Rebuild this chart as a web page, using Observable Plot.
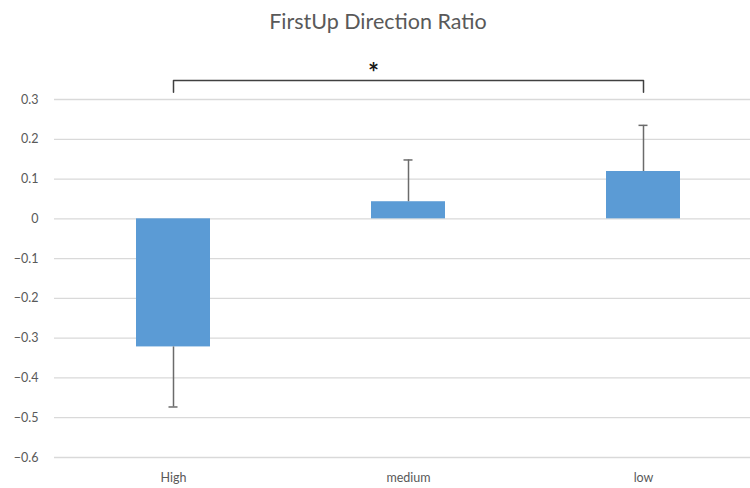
<!DOCTYPE html>
<html>
<head>
<meta charset="utf-8">
<script src="https://cdn.jsdelivr.net/npm/d3@7"></script>
<script src="https://cdn.jsdelivr.net/npm/@observablehq/plot@0.6"></script>
<style>
  body { margin: 0; background: #fff; }
  #title { height: 40px; line-height: 42px; text-align: center; padding-left: 6px;
           font-family: Lato, "Open Sans", sans-serif; font-size: 21.5px; color: #595959; }
  svg { display: block; }
</style>
</head>
<body>
<div id="title">FirstUp Direction Ratio</div>
<div id="chart"></div>
<script>
const categories = ["High", "medium", "low"];
const values = [-0.322, 0.043, 0.119];
const errorEnds = [-0.473, 0.148, 0.235];
const yTicks = [-0.6, -0.5, -0.4, -0.3, -0.2, -0.1, 0, 0.1, 0.2, 0.3];
const bracketFrom = "High";
const bracketTo = "low";
const bracketTop = 0.348;
const bracketBottom = 0.318;
const sigLabel = "*";
const sigY = 0.385;

const data = categories.map((c, i) => ({cat: c, v: values[i], e: errorEnds[i]}));
const bracket = [
  {x: bracketFrom, y: bracketBottom},
  {x: bracketFrom, y: bracketTop},
  {x: bracketTo, y: bracketTop},
  {x: bracketTo, y: bracketBottom}
];
const sigMid = [{x: "medium", y: sigY, t: sigLabel}];

const chart = Plot.plot({
  width: 750,
  height: 448,
  marginLeft: 54,
  marginRight: 0,
  marginTop: 59,
  marginBottom: 31,
  style: {fontFamily: "Lato, 'Open Sans', sans-serif", fontSize: "12.5px", color: "#595959", background: "#fff"},
  x: {domain: categories, range: [54, 761], paddingInner: 0.686, paddingOuter: 0.343, label: null},
  y: {domain: [-0.6, 0.3], ticks: yTicks, label: null, tickFormat: d => d === 0 ? "0" : d3.format(".1f")(d)},
  marks: [
    Plot.gridY(yTicks, {stroke: "#d9d9d9", strokeOpacity: 1, strokeWidth: 1.3}),
    Plot.barY(data, {x: "cat", y: "v", fill: "#5b9bd5"}),
    Plot.ruleX(data, {x: "cat", y1: "v", y2: "e", stroke: "#6b6b6b", strokeWidth: 1.5}),
    Plot.tickY(data, {x: "cat", y: "e", stroke: "#6b6b6b", strokeWidth: 1.5, insetLeft: 32.5, insetRight: 32.5}),
    Plot.line(bracket, {x: "x", y: "y", stroke: "#404040", strokeWidth: 1.5}),
    Plot.text(sigMid, {x: "x", y: "y", text: "t", fontSize: 26, fontWeight: "bold", fill: "#1a1a1a", dy: 8, dx: -35}),
    Plot.axisY({ticks: yTicks, tickSize: 0, tickPadding: 16, tickFormat: d => d === 0 ? "0" : d3.format(".1f")(d), fill: "#595959"}),
    Plot.axisX({tickSize: 0, tickPadding: 16, fill: "#595959"})
  ]
});
document.getElementById("chart").appendChild(chart);
</script>
</body>
</html>
